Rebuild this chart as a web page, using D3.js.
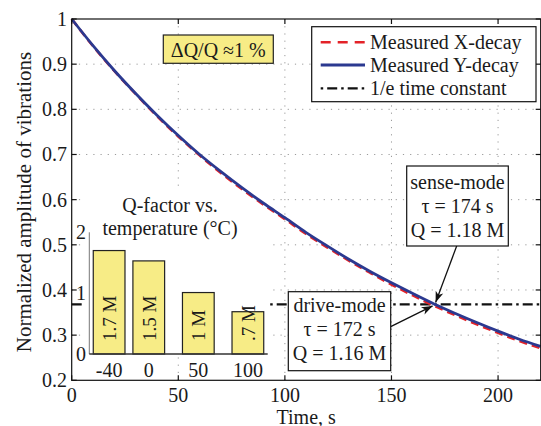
<!DOCTYPE html>
<html>
<head>
<meta charset="utf-8">
<script src="https://cdn.jsdelivr.net/npm/d3@7"></script>
<style>
  html, body { margin: 0; padding: 0; background: #fff; }
  svg { display: block; }
  text { font-family: "Liberation Serif", "Times New Roman", serif; fill: #1a1a1a; }
</style>
</head>
<body>
<div id="chart"></div>
<script>
// ---- data ----
const time = [0, 10, 20, 30, 40, 50, 60, 70, 80, 90, 100, 110, 120, 130, 140, 150, 160, 170, 180, 190, 200, 210, 220];
const yDecay = [1.000, 0.941, 0.886, 0.835, 0.787, 0.742, 0.700, 0.662, 0.626, 0.592, 0.560, 0.527, 0.497, 0.468, 0.441, 0.416, 0.392, 0.369, 0.348, 0.328, 0.309, 0.291, 0.275];
const xDecay = [1.000, 0.940, 0.885, 0.834, 0.785, 0.740, 0.698, 0.659, 0.623, 0.589, 0.557, 0.524, 0.494, 0.465, 0.438, 0.412, 0.388, 0.365, 0.344, 0.324, 0.305, 0.287, 0.271];
const invE = 0.368;
const xTicks = [0, 50, 100, 150, 200];
const yTicks = [0.2, 0.3, 0.4, 0.5, 0.6, 0.7, 0.8, 0.9, 1];
const yTickLabels = ["0.2", "0.3", "0.4", "0.5", "0.6", "0.7", "0.8", "0.9", "1"];
const legendLabels = ["Measured X-decay", "Measured Y-decay", "1/e time constant"];
// inset: Q-factor vs temperature
const tempC = [-40, 0, 50, 100];
const qFactor = [1.70, 1.53, 1.01, 0.695];
const qLabels = ["1.7 M", "1.5 M", "1 M", ".7 M"];
const insetYTicks = [0, 1, 2];
const insetTitle = ["Q-factor vs.", "temperature (\u00B0C)"];
const senseLines = ["sense-mode", "\u03C4 = 174 s", "Q = 1.18 M"];
const driveLines = ["drive-mode", "\u03C4 = 172 s", "Q = 1.16 M"];
const dqText = "\u0394Q/Q \u22481 %";

// ---- layout ----
const W = 541, H = 426;
const L = 71.7, R = 540.7, T = 19, B = 380.3;
const FS = 20;
const svg = d3.select("#chart").append("svg").attr("width", W).attr("height", H);

const x = d3.scaleLinear().domain([0, 220]).range([L, R]);
const y = d3.scaleLinear().domain([0.2, 1]).range([B, T]);

// grid
const grid = svg.append("g").attr("stroke", "#9a9a9a").attr("stroke-width", 1).attr("stroke-dasharray", "1.2,6");
grid.selectAll(".gx").data(xTicks.slice(1)).join("line")
  .attr("x1", d => x(d)).attr("x2", d => x(d)).attr("y1", T).attr("y2", B);
grid.selectAll(".gy").data(yTicks.slice(1, -1)).join("line")
  .attr("x1", L).attr("x2", R).attr("y1", d => y(d)).attr("y2", d => y(d));

// 1/e line
svg.append("line").attr("x1", x(0)).attr("x2", x(220)).attr("y1", y(invE)).attr("y2", y(invE))
  .attr("stroke", "#111").attr("stroke-width", 2.2).attr("stroke-dasharray", "10,4,2.5,4");

// inset background
svg.append("rect").attr("x", 84).attr("y", 188).attr("width", 186).attr("height", 169).attr("fill", "#fff");

// curves
const line = d3.line().x((d, i) => x(time[i])).y(d => y(d)).curve(d3.curveMonotoneX);
svg.append("path").attr("d", line(xDecay)).attr("fill", "none")
  .attr("stroke", "#e32228").attr("stroke-width", 2.6).attr("stroke-dasharray", "8,5");
svg.append("path").attr("d", line(yDecay)).attr("fill", "none")
  .attr("stroke", "#2b3990").attr("stroke-width", 2.8);

// axes box and ticks
const ax = svg.append("g").attr("stroke", "#111").attr("stroke-width", 1.2);
ax.append("rect").attr("x", L).attr("y", T).attr("width", R - L).attr("height", B - T).attr("fill", "none");
const tl = 5;
ax.selectAll(".tb").data(xTicks).join("line").attr("x1", d => x(d)).attr("x2", d => x(d)).attr("y1", B).attr("y2", B - tl);
ax.selectAll(".tt").data(xTicks).join("line").attr("x1", d => x(d)).attr("x2", d => x(d)).attr("y1", T).attr("y2", T + tl);
ax.selectAll(".tl").data(yTicks).join("line").attr("x1", L).attr("x2", L + tl).attr("y1", d => y(d)).attr("y2", d => y(d));
ax.selectAll(".tr").data(yTicks).join("line").attr("x1", R).attr("x2", R - tl).attr("y1", d => y(d)).attr("y2", d => y(d));

svg.selectAll(".xl").data(xTicks).join("text")
  .attr("x", d => x(d)).attr("y", 401.5).attr("text-anchor", "middle").attr("font-size", FS).text(d => d);
svg.selectAll(".yl").data(yTicks).join("text")
  .attr("x", 67).attr("y", d => y(d) + 7).attr("text-anchor", "end").attr("font-size", FS).text((d, i) => yTickLabels[i]);

svg.append("text").attr("x", (L + R) / 2).attr("y", 423.5).attr("text-anchor", "middle").attr("font-size", FS).text("Time, s");
svg.append("text").attr("transform", `translate(31,202) rotate(-90)`).attr("text-anchor", "middle")
  .attr("font-size", 21).text("Normalized amplitude of vibrations");

// ---- inset ----
const ix = d3.scaleLinear().domain([-60, 120]).range([89.3, 267.7]);
const iy = d3.scaleLinear().domain([0, 2]).range([354, 232.3]);
const bw = ix(32) - ix(0);
const inset = svg.append("g");
inset.selectAll("rect.bar").data(qFactor).join("rect")
  .attr("x", (d, i) => ix(tempC[i]) - bw / 2).attr("width", bw)
  .attr("y", d => iy(d)).attr("height", d => iy(0) - iy(d))
  .attr("fill", "#f7ec86").attr("stroke", "#222").attr("stroke-width", 1.2);
inset.append("line").attr("x1", ix(-60)).attr("x2", ix(-60)).attr("y1", iy(0)).attr("y2", iy(2))
  .attr("stroke", "#777").attr("stroke-width", 1);
inset.append("line").attr("x1", ix(-60)).attr("x2", ix(120)).attr("y1", iy(0)).attr("y2", iy(0))
  .attr("stroke", "#333").attr("stroke-width", 1.4);
inset.selectAll(".iyl").data(insetYTicks).join("text")
  .attr("x", 86).attr("y", d => iy(d) + 7).attr("text-anchor", "end").attr("font-size", FS).text(d => d);
inset.selectAll(".ixl").data(tempC).join("text")
  .attr("x", d => ix(d)).attr("y", 377).attr("text-anchor", "middle").attr("font-size", FS).text(d => d);
inset.selectAll(".bl").data(qLabels).join("text")
  .attr("transform", (d, i) => `translate(${ix(tempC[i]) + 7},341) rotate(-90)`)
  .attr("font-size", 19).text(d => d);
inset.selectAll(".it").data(insetTitle).join("text")
  .attr("x", 170).attr("y", (d, i) => 211.5 + i * 23.5).attr("text-anchor", "middle").attr("font-size", FS).text(d => d);

// ---- ΔQ/Q box ----
svg.append("rect").attr("x", 163.3).attr("y", 35).attr("width", 110).attr("height", 28.3)
  .attr("fill", "#f7ec86").attr("stroke", "#222").attr("stroke-width", 1.2);
svg.append("text").attr("x", 218.3).attr("y", 57).attr("text-anchor", "middle").attr("font-size", FS).text(dqText);

// ---- annotations ----
function arrow(x1, y1, x2, y2) {
  svg.append("line").attr("x1", x1).attr("y1", y1).attr("x2", x2).attr("y2", y2)
    .attr("stroke", "#111").attr("stroke-width", 1.3);
  const a = Math.atan2(y2 - y1, x2 - x1), len = 11, wid = 4;
  const bx = x2 - len * Math.cos(a), by = y2 - len * Math.sin(a);
  const px = -Math.sin(a) * wid, py = Math.cos(a) * wid;
  svg.append("path").attr("d", `M${x2},${y2}L${bx + px},${by + py}L${bx + 3 * Math.cos(a)},${by + 3 * Math.sin(a)}L${bx - px},${by - py}Z`)
    .attr("fill", "#111");
}
const tipX = x(170), tipY = y(invE);
arrow(456.7, 246, tipX + 1.5, tipY - 2);
arrow(390.7, 326.7, tipX - 1.5, tipY + 1.5);

function box(x0, y0, w, h, lines, cx, base) {
  svg.append("rect").attr("x", x0).attr("y", y0).attr("width", w).attr("height", h)
    .attr("fill", "#fff").attr("stroke", "#111").attr("stroke-width", 1.2);
  svg.selectAll(null).data(lines).join("text").attr("x", cx).attr("y", (d, i) => base + i * 24)
    .attr("text-anchor", "middle").attr("font-size", FS).text(d => d);
}
box(406.7, 166, 101.6, 80, senseLines, 457.5, 189);
box(288.3, 291.7, 102.4, 79, driveLines, 339.5, 312);

// ---- legend ----
const lg = svg.append("g");
lg.append("rect").attr("x", 311.7).attr("y", 26.7).attr("width", 224.3).attr("height", 75)
  .attr("fill", "#fff").attr("stroke", "#111").attr("stroke-width", 1.2);
const rowY = [42.3, 65, 88.3];
const styles = [
  { c: "#e32228", w: 2.6, d: "10,7" },
  { c: "#2b3990", w: 2.8, d: null },
  { c: "#111", w: 2.2, d: "2.5,4,10,4" }
];
lg.selectAll(".ll").data(legendLabels).join("line")
  .attr("x1", 320.7).attr("x2", 365).attr("y1", (d, i) => rowY[i]).attr("y2", (d, i) => rowY[i])
  .attr("stroke", (d, i) => styles[i].c).attr("stroke-width", (d, i) => styles[i].w)
  .attr("stroke-dasharray", (d, i) => styles[i].d);
lg.selectAll(".lt").data(legendLabels).join("text")
  .attr("x", 370).attr("y", (d, i) => rowY[i] + 7).attr("font-size", FS).text(d => d);
</script>
</body>
</html>
